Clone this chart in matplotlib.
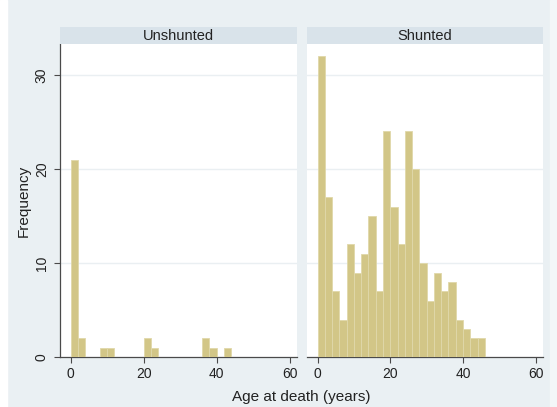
import matplotlib
matplotlib.use("Agg")
import matplotlib.pyplot as plt
from matplotlib.patches import Rectangle
import numpy as np

plt.rcParams['font.family'] = ['Liberation Sans', 'DejaVu Sans']

# Data: histogram of age at death, 2-year bins starting at 0
bin_width = 2
unshunted_bins = [0, 2, 8, 10, 20, 22, 36, 38, 42]
unshunted_counts = [21, 2, 1, 1, 2, 1, 2, 1, 1]
shunted_counts = [32, 17, 7, 4, 12, 9, 11, 15, 7, 24, 16, 12, 24, 20, 10, 6, 9, 7, 8, 4, 3, 2, 2]
shunted_bins = [i * bin_width for i in range(len(shunted_counts))]
panel_titles = ["Unshunted", "Shunted"]
xticks = [0, 20, 40, 60]
yticks = [0, 10, 20, 30]

BG = "#eaf0f3"
HEADER = "#d9e3ea"
BAR = "#d2c687"
BAR_EDGE = "#e0d8aa"
AXC = "#4a4a4a"

W, H = 557, 407
fig = plt.figure(figsize=(W / 100, H / 100), dpi=100, facecolor=BG)
fig.patches.append(Rectangle((0, 0), 7 / W, 1, transform=fig.transFigure,
                             color="white", zorder=0))
fig.patches.append(Rectangle((550 / W, 0), 7 / W, 1, transform=fig.transFigure,
                             color="#f3f6f8", zorder=0))

def px(x0, y0, x1, y1):
    return [x0 / W, (H - y1) / H, (x1 - x0) / W, (y1 - y0) / H]

panels = [
    (px(60, 44, 297, 357.3), px(60, 27, 297, 44), unshunted_bins, unshunted_counts, True),
    (px(307, 44, 543, 357.3), px(307, 27, 543, 44), shunted_bins, shunted_counts, False),
]

for (rect, hrect, bins, counts, show_y), title in zip(panels, panel_titles):
    ax = fig.add_axes(rect)
    ax.set_facecolor("white")
    ax.bar(bins, counts, width=bin_width, align="edge", color=BAR,
           edgecolor=BAR_EDGE, linewidth=0.6, zorder=3)
    ax.set_xlim(-2.9, 62)
    ax.set_ylim(0, 33.3)
    ax.set_xticks(xticks)
    ax.set_yticks(yticks)
    for yv in yticks[1:]:
        ax.axhline(yv, color="#eaeff2", linewidth=1.0, zorder=1)
    for s in ["top", "right"]:
        ax.spines[s].set_visible(False)
    ax.spines["bottom"].set_color(AXC)
    ax.spines["bottom"].set_linewidth(0.9)
    ax.tick_params(axis="x", direction="out", length=4, width=0.8, color=AXC,
                   labelsize=10, labelcolor="#222222", pad=3)
    if show_y:
        ax.spines["left"].set_color(AXC)
        ax.spines["left"].set_linewidth(0.9)
        ax.tick_params(axis="y", direction="out", length=4, width=0.8, color=AXC,
                       labelsize=10, labelcolor="#222222", pad=4)
        for lab in ax.get_yticklabels():
            lab.set_rotation(90)
            lab.set_va("center")
        ax.set_ylabel("Frequency", fontsize=11, color="#222222", labelpad=3)
    else:
        ax.spines["left"].set_visible(False)
        ax.tick_params(axis="y", left=False, labelleft=False)

    hax = fig.add_axes(hrect)
    hax.set_facecolor(HEADER)
    hax.set_xticks([])
    hax.set_yticks([])
    for s in hax.spines.values():
        s.set_visible(False)
    hax.text(0.5, 0.5, title, ha="center", va="center", fontsize=10.5,
             color="#222222", transform=hax.transAxes)

fig.text((60 + 543) / 2 / W, 1 - 397 / H, "Age at death (years)", ha="center",
         va="center", fontsize=11, color="#222222")

fig.savefig("out.png", dpi=100, facecolor=BG)
